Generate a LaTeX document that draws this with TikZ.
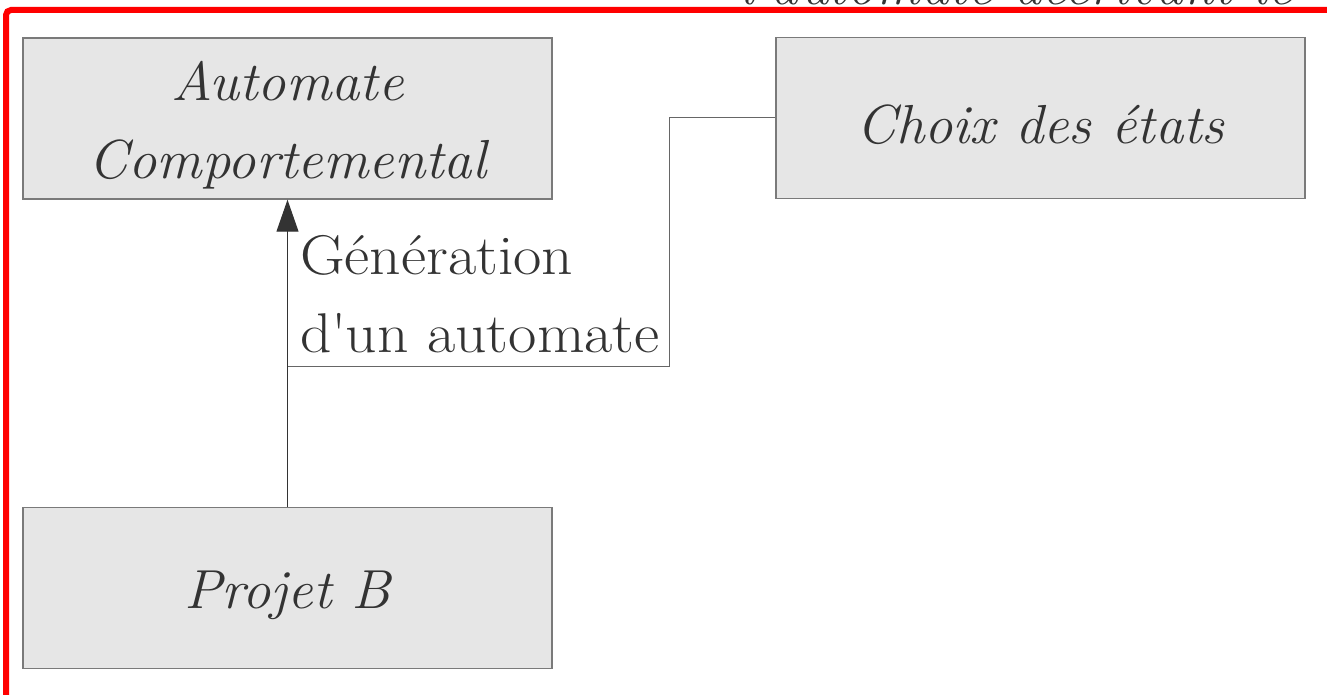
\documentclass[tikz,border=0pt]{standalone}
\usepackage{fontspec}
\setmainfont{Latin Modern Roman}[FakeStretch=1.1]
\newfontfamily\itrm{Latin Modern Roman}[FakeStretch=1.03]
\usetikzlibrary{arrows.meta}
\definecolor{boxfill}{HTML}{E6E6E6}
\definecolor{boxdraw}{HTML}{7A7A7A}
\definecolor{txt}{HTML}{333333}
\definecolor{wire}{HTML}{666666}
\newcommand\lowtxt[1]{\raisebox{-7pt}[\height][\depth]{#1}}
\begin{document}
\begin{tikzpicture}[x=1pt,y=-1pt,
  box/.style={draw=boxdraw,line width=1.4pt,fill=boxfill,minimum width=529pt,minimum height=161pt,inner sep=0pt,text=txt,align=center,font=\fontsize{55}{78}\selectfont\itrm\itshape},
  wireline/.style={draw=wire,line width=1pt},
  lbl/.style={text=txt,align=left,inner sep=0pt,font=\fontsize{56}{78}\selectfont}]
\useasboundingbox (0,0) rectangle (1327,695);
\clip (0,0) rectangle (1327,695);
\node[text=txt,anchor=base west,inner sep=0pt,font=\fontsize{55}{78}\selectfont\itrm\itshape] (title) at (740,5) {l\textquotesingle automate décrivant le};
\draw[red,line width=6pt,rounded corners=5pt] (6,10) rectangle (1500,900);
\node[box] (ac) at (287.5,118.5) {\lowtxt{Automate}\\\lowtxt{Comportemental}};
\node[box] (ch) at (1040.5,118) {\lowtxt{Choix des états}};
\node[box] (pb) at (287.5,588) {\lowtxt{Projet B}};
\coordinate (j) at (288,366);
\coordinate (k) at (669,366);
\draw[wireline,-{Triangle[length=32pt,width=22pt]},color=txt] (pb.north) -- (ac.south);
\draw[wireline] (ch.west) -| (k) -- (j);
\node[lbl,anchor=base west] (gen1) at (300,274) {Génération};
\node[lbl,anchor=base west] (gen2) at (300,352) {d\textquotesingle un automate};
\end{tikzpicture}
\end{document}
